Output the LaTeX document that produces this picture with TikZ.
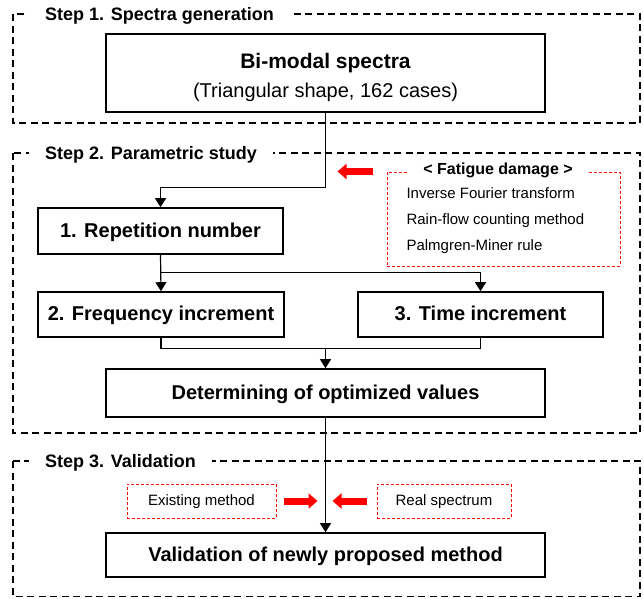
\documentclass[tikz,border=0pt]{standalone}
\usepackage{fontspec}
\setmainfont{Liberation Sans}
\usetikzlibrary{calc, arrows.meta, positioning}
\definecolor{dmgred}{HTML}{FF0000}

\begin{document}
\begin{tikzpicture}[x=1pt, y=-1pt,
    stepframe/.style={draw, line width=1.2pt, dash pattern=on 7pt off 4.5pt},
    steplabel/.style={anchor=west, fill=white, inner xsep=16pt, inner ysep=1pt,
        text height=13pt, text depth=0pt, font=\fontsize{18}{20}\selectfont\bfseries},
    mainbox/.style={draw, line width=1.6pt, inner sep=0pt, text height=14pt, text depth=2pt,
        font=\fontsize{20}{24}\selectfont\bfseries},
    redbox/.style={draw=dmgred, line width=1pt, dash pattern=on 3pt off 2pt, inner sep=0pt,
        text height=11pt, text depth=2pt, font=\fontsize{15}{17}\selectfont},
    dmgtext/.style={anchor=base west, font=\fontsize{15}{17}\selectfont},
    flow/.style={line width=1.2pt, -{Triangle[length=9pt, width=11pt]}},
    redarrow/.style={dmgred, line width=7pt, -{Triangle[length=9pt, width=15pt]}}]
  \useasboundingbox (0,0) rectangle (644,598);

  % Step frames
  \draw[stepframe] (13,14) rectangle (640,123);
  \draw[stepframe] (13,153) rectangle (640,433);
  \draw[stepframe] (13,461) rectangle (640,596.5);
  \node[steplabel] (steponelabel) at (29,14) {Step 1. Spectra generation};
  \node[steplabel] (steptwolabel) at (29,153) {Step 2. Parametric study};
  \node[steplabel] (stepthreelabel) at (29,461) {Step 3. Validation};

  % Step 1
  \node[mainbox, minimum width=439pt, minimum height=78pt] (spectra) at (325.5,73) {};
  \node[anchor=base, font=\fontsize{21}{24}\selectfont\bfseries] (spectratitle) at (325.5,68) {Bi-modal spectra};
  \node[anchor=base, font=\fontsize{20}{24}\selectfont] (spectranote) at (325.5,97) {(Triangular shape, 162 cases)};

  % Step 2
  \node[mainbox, minimum width=245pt, minimum height=46pt] (repeat) at (160.5,231) {1. Repetition number};
  \node[mainbox, minimum width=246pt, minimum height=45pt] (freq) at (161,314.5) {2. Frequency increment};
  \node[mainbox, minimum width=245pt, minimum height=45pt] (timeinc) at (480.5,314.5) {3. Time increment};
  \node[mainbox, minimum width=439pt, minimum height=48pt] (optim) at (325.5,393) {Determining of optimized values};

  \node[redbox, minimum width=233pt, minimum height=94pt] (fatigue) at (503.5,219) {};
  \node[fill=white, inner xsep=16pt, inner ysep=0pt, font=\fontsize{16}{18}\selectfont\bfseries] (fatiguetitle) at (498,170) {< Fatigue damage >};
  \node[dmgtext] (dmgifft) at (403,198.5) {Inverse Fourier transform};
  \node[dmgtext] (dmgrain) at (403,224.5) {Rain-flow counting method};
  \node[dmgtext] (dmgminer) at (403,250.5) {Palmgren-Miner rule};
  \coordinate (dmgtail) at ([xshift=-14pt]fatigue.north west);
  \draw[redarrow] (dmgtail) -- ++(-35,0);

  \draw[flow] (spectra.south) |- ($(repeat.north)+(0,-20)$) -- (repeat.north);
  \draw[flow] (repeat.south) -- (freq.north);
  \draw[flow] (repeat.south) -- ++(0,18) -| (timeinc.north);
  \coordinate (joint) at ($(optim.north)+(0,-20)$);
  \draw[line width=1.2pt] (freq.south) |- (joint) -| (timeinc.south);
  \draw[flow] (joint) -- (optim.north);

  % Step 3
  \node[redbox, minimum width=149pt, minimum height=34pt] (existing) at (201.5,501) {Existing method};
  \node[redbox, minimum width=134pt, minimum height=34pt] (real) at (444,501) {Real spectrum};
  \node[mainbox, minimum width=439pt, minimum height=44pt] (valid) at (325.5,555) {Validation of newly proposed method};

  \draw[flow] (optim.south) -- (valid.north);
  \draw[redarrow] ([xshift=7pt]existing.east) -- ++(34,0);
  \draw[redarrow] ([xshift=-10pt]real.west) -- ++(-34,0);
\end{tikzpicture}
\end{document}
